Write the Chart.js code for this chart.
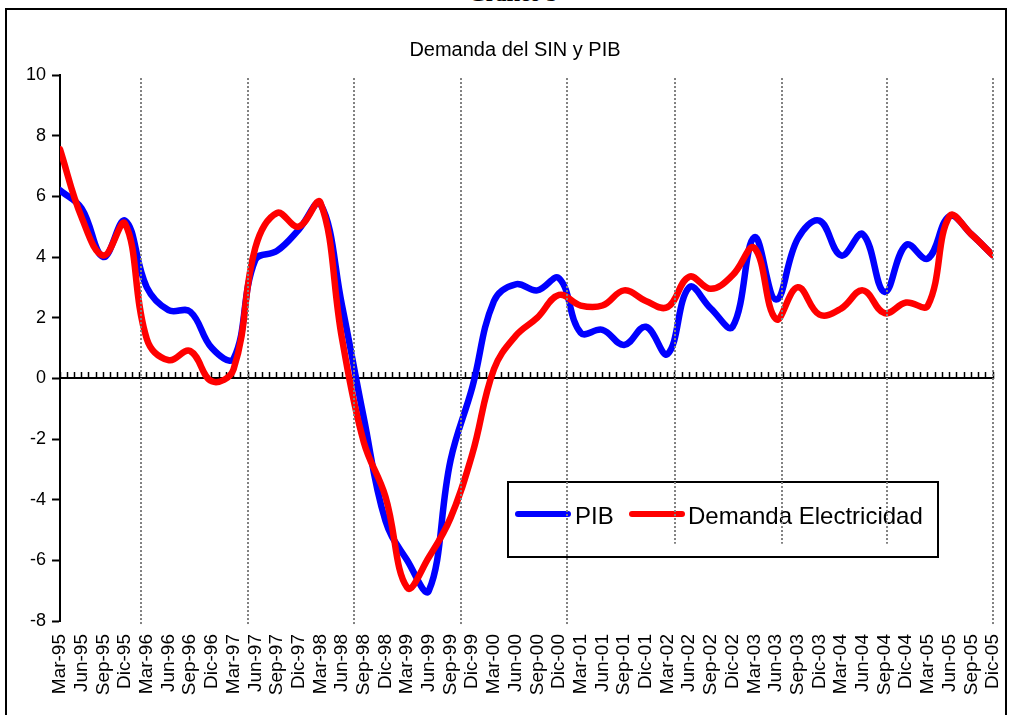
<!DOCTYPE html>
<html>
<head>
<meta charset="utf-8">
<script src="https://cdn.jsdelivr.net/npm/chart.js@4.4.1/dist/chart.umd.min.js"></script>
<style>
    html, body { margin: 0; padding: 0; background: #fff; }
    body { width: 1010px; height: 715px; overflow: hidden; position: relative; }
    #frame { position: absolute; left: 5px; top: 8px; width: 998px; height: 720px; border: 2px solid #000; }
    #head { position: absolute; left: 0; top: -17px; width: 1026px; text-align: center; font: bold 22px "Liberation Serif", serif; line-height: 22px; color: #000; }
    canvas { position: absolute; left: 0; top: 0; }
</style>
</head>
<body>
<div id="head">Gráfico 5</div>
<div id="frame"></div>
<canvas id="demandChart" width="1010" height="715"></canvas>
<script>
const quarterLabels = [
    "Mar-95", "Jun-95", "Sep-95", "Dic-95",
    "Mar-96", "Jun-96", "Sep-96", "Dic-96",
    "Mar-97", "Jun-97", "Sep-97", "Dic-97",
    "Mar-98", "Jun-98", "Sep-98", "Dic-98",
    "Mar-99", "Jun-99", "Sep-99", "Dic-99",
    "Mar-00", "Jun-00", "Sep-00", "Dic-00",
    "Mar-01", "Jun-01", "Sep-01", "Dic-01",
    "Mar-02", "Jun-02", "Sep-02", "Dic-02",
    "Mar-03", "Jun-03", "Sep-03", "Dic-03",
    "Mar-04", "Jun-04", "Sep-04", "Dic-04",
    "Mar-05", "Jun-05", "Sep-05", "Dic-05",
];

const pib = [
    6.2, 5.6, 4.0, 5.2,
    3.0, 2.25, 2.2, 1.0,
    0.65, 3.9, 4.2, 4.9,
    5.75, 2.4, -1.3, -4.7,
    -6.0, -7.0, -2.7, -0.3,
    2.55, 3.1, 2.9, 3.3,
    1.5, 1.6, 1.1, 1.7,
    0.8, 3.0, 2.3, 1.7,
    4.65, 2.6, 4.6, 5.2,
    4.05, 4.75, 2.85, 4.4,
    3.95, 5.35, 4.75, 4.05,
];

const demanda = [
    7.55, 5.3, 4.05, 5.1,
    1.3, 0.6, 0.9, -0.1,
    0.3, 4.3, 5.45, 5.0,
    5.8, 1.3, -2.1, -3.9,
    -6.9, -5.9, -4.6, -2.5,
    0.3, 1.4, 2.0, 2.75,
    2.4, 2.4, 2.9, 2.55,
    2.35, 3.35, 2.95, 3.4,
    4.3, 1.95, 3.0, 2.1,
    2.3, 2.9, 2.15, 2.5,
    2.4, 5.35, 4.75, 4.05,
];

// months since Mar-95 where the dotted separators sit, and where each one ends
const gridMonths = [11.2, 26, 40.6, 55.4, 70.1, 85, 99.8, 114.4, 129];
const gridBottoms = [-8.1, -8.1, -8.1, -8.1, -8.1, -5.45, -5.45, -5.45, -8.1];
const gridTop = 9.9;

const FONT = '"Liberation Sans", Arial, sans-serif';
Chart.defaults.font.family = FONT;
Chart.defaults.color = "#000";

const toPoints = (values) => values.map((v, i) => ({ x: i * 3, y: v }));

const overlay = {
    id: "overlay",
    afterDatasetsDraw(chart) {
        const { ctx, scales: { x, y } } = chart;
        ctx.save();

        // title
        ctx.fillStyle = "#000";
        ctx.font = "20px " + FONT;
        ctx.textAlign = "center";
        ctx.textBaseline = "middle";
        ctx.fillText("Demanda del SIN y PIB", 515, 50);

        // legend
        ctx.lineWidth = 2;
        ctx.strokeStyle = "#000";
        ctx.strokeRect(508, 482, 430, 75);

        const items = [chart.data.datasets[0], chart.data.datasets[1]];
        const slots = [[518, 568, 575], [632, 682, 688]];
        ctx.font = "24px " + FONT;
        ctx.textAlign = "left";
        items.forEach((ds, i) => {
            const [x1, x2, tx] = slots[i];
            ctx.strokeStyle = ds.borderColor;
            ctx.lineWidth = 6;
            ctx.lineCap = "round";
            ctx.beginPath();
            ctx.moveTo(x1, 514);
            ctx.lineTo(x2, 514);
            ctx.stroke();
            ctx.fillText(ds.label, tx, 517);
        });

        // dotted separators
        ctx.lineCap = "butt";
        ctx.strokeStyle = "#808080";
        ctx.lineWidth = 2;
        ctx.setLineDash([2, 2]);
        gridMonths.forEach((m, i) => {
            const px = Math.round(x.getPixelForValue(m));
            ctx.beginPath();
            ctx.moveTo(px, y.getPixelForValue(gridTop));
            ctx.lineTo(px, y.getPixelForValue(gridBottoms[i]));
            ctx.stroke();
        });

        ctx.restore();
    },
};

new Chart(document.getElementById("demandChart"), {
    type: "line",

    data: {
        datasets: [
            {
                label: "PIB",
                data: toPoints(pib),
                borderColor: "#0000ff",
                borderWidth: 6.5,
                order: 1,
            },
            {
                label: "Demanda Electricidad",
                data: toPoints(demanda),
                borderColor: "#ff0000",
                borderWidth: 6.5,
                order: 0,
            },
        ],
    },

    options: {
        responsive: false,
        animation: false,

        layout: {
            padding: { top: 75, right: 17, bottom: 0, left: 0 },
        },

        elements: {
            point: { radius: 0 },
            line: { tension: 0.4, borderCapStyle: "round", borderJoinStyle: "round" },
        },

        plugins: {
            legend: { display: false },
            title: { display: false },
            tooltip: { enabled: false },
        },

        scales: {
            x: {
                type: "linear",
                min: 0,
                max: 129,
                position: "bottom",
                grid: { display: false, drawTicks: false },
                border: { display: false },
                ticks: {
                    stepSize: 3,
                    autoSkip: false,
                    minRotation: 90,
                    maxRotation: 90,
                    padding: 13,
                    font: { size: 19 },
                    callback: (v) => quarterLabels[Math.round(v / 3)],
                },
                afterFit: (axis) => {
                    axis.height = 94;
                    axis.paddingLeft = 0;
                    axis.paddingRight = 0;
                },
            },

            x0: {
                type: "linear",
                min: 0,
                max: 129,
                position: { y: 0 },
                grid: {
                    drawOnChartArea: false,
                    tickLength: -7,
                    tickColor: "#000",
                    tickWidth: 1.5,
                },
                border: { color: "#000", width: 2 },
                ticks: { display: false, stepSize: 1 },
            },

            y: {
                min: -8,
                max: 10,
                grid: {
                    drawOnChartArea: false,
                    tickLength: 8,
                    tickColor: "#000",
                    tickWidth: 2,
                },
                border: { color: "#000", width: 2 },
                ticks: {
                    stepSize: 2,
                    padding: 6,
                    font: { size: 18 },
                },
                afterFit: (axis) => {
                    axis.width = 60;
                },
            },
        },
    },

    plugins: [overlay],
});
</script>
</body>
</html>
